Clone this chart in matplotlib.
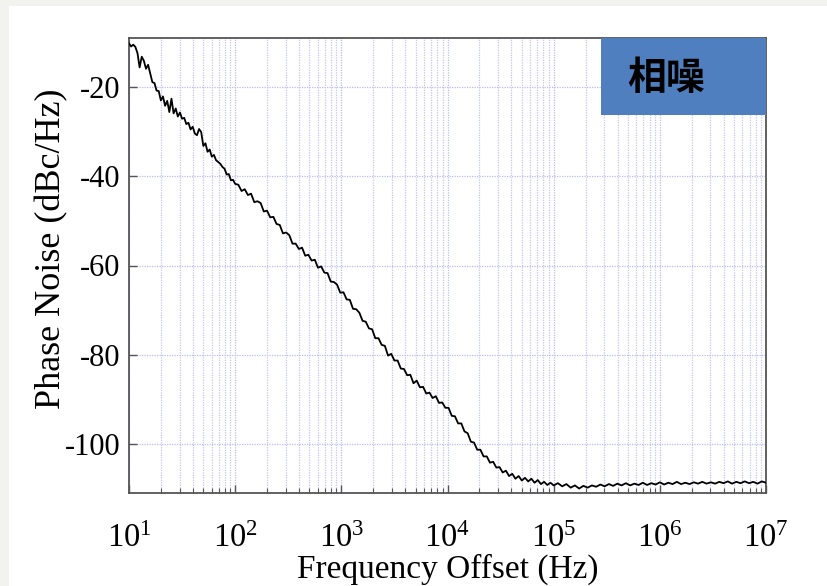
import numpy as np
import matplotlib
matplotlib.use("Agg")
import matplotlib.pyplot as plt
from matplotlib import ticker
from matplotlib.patches import Rectangle

plt.rcParams['font.family'] = ['Liberation Serif', 'DejaVu Serif']
plt.rcParams['mathtext.fontset'] = 'custom'
plt.rcParams['mathtext.rm'] = 'Liberation Serif'

# --- datos (log10 de la frecuencia, dBc/Hz) ---
log_f_low = [1.00, 1.02, 1.04, 1.06, 1.08, 1.10, 1.12, 1.14, 1.16, 1.18,
             1.20, 1.22, 1.24, 1.26, 1.28, 1.30, 1.32, 1.34, 1.36, 1.38,
             1.40, 1.42, 1.44, 1.46, 1.48, 1.50, 1.52, 1.54, 1.56, 1.58,
             1.60, 1.62, 1.64, 1.66, 1.68, 1.70, 1.72, 1.74, 1.76, 1.78,
             1.80, 1.82, 1.84, 1.86, 1.88, 1.90, 1.92, 1.94, 1.96, 1.98, 2.00]
pn_low = [-10.2, -10.9, -10.5, -11.0, -12.4, -15.6, -13.2, -14.1, -15.9, -15.0,
          -17.0, -18.9, -19.1, -20.8, -20.9, -23.0, -22.1, -24.2, -23.1, -25.6,
          -22.6, -25.9, -24.8, -26.6, -25.7, -27.1, -26.9, -28.3, -28.0, -29.5,
          -28.9, -30.4, -30.8, -29.4, -30.1, -33.2, -32.6, -34.5, -34.0, -35.6,
          -35.2, -36.4, -36.8, -37.2, -37.9, -38.3, -39.6, -39.5, -40.9, -40.8, -41.7]

log_f_mid = [2.03, 2.06, 2.09, 2.12, 2.15, 2.18, 2.21, 2.24, 2.27, 2.30,
             2.33, 2.36, 2.39, 2.42, 2.45, 2.48, 2.51, 2.54, 2.57, 2.60,
             2.63, 2.66, 2.69, 2.72, 2.75, 2.78, 2.81, 2.84, 2.87, 2.90,
             2.93, 2.96, 2.99, 3.02, 3.05, 3.08, 3.11, 3.14, 3.17, 3.20,
             3.23, 3.26, 3.29, 3.32, 3.35, 3.38, 3.41, 3.44, 3.47, 3.50,
             3.53, 3.56, 3.59, 3.62, 3.65, 3.68, 3.71, 3.74, 3.77, 3.80,
             3.83, 3.86, 3.89, 3.92, 3.95, 3.98, 4.01, 4.04, 4.07, 4.10,
             4.13, 4.16, 4.19, 4.22, 4.25, 4.28, 4.31, 4.34, 4.37, 4.40,
             4.43, 4.46, 4.49, 4.52, 4.55, 4.58, 4.61, 4.64, 4.67, 4.70,
             4.73, 4.76, 4.79, 4.82, 4.85, 4.88, 4.91, 4.94, 4.97]
pn_mid = [-41.9, -43.3, -42.9, -44.2, -43.9, -45.8, -45.6, -46.0, -47.9, -47.7,
          -49.2, -49.1, -50.7, -50.9, -52.8, -52.6, -53.2, -55.1, -55.1, -56.3,
          -56.0, -57.8, -57.6, -58.9, -58.7, -60.5, -60.2, -61.6, -61.7, -63.6,
          -63.7, -64.3, -66.1, -66.0, -67.6, -67.7, -69.7, -69.8, -70.6, -72.4,
          -72.6, -74.1, -74.3, -76.3, -76.3, -77.8, -78.0, -80.2, -79.8, -81.3,
          -81.3, -83.1, -83.2, -84.6, -84.5, -86.4, -85.8, -87.3, -87.2, -88.7,
          -88.5, -89.7, -89.3, -90.8, -90.7, -91.9, -91.9, -93.7, -93.8, -95.4,
          -95.4, -97.2, -97.6, -99.5, -99.7, -101.3, -101.3, -102.8, -102.8, -104.2,
          -104.0, -105.3, -105.2, -106.4, -106.0, -107.2, -106.7, -107.8, -107.2, -108.2,
          -107.6, -108.4, -107.8, -108.7, -108.1, -109.0, -108.5, -109.2, -108.7]

log_f_floor = [5.00, 5.04, 5.08, 5.12, 5.16, 5.20, 5.24, 5.28, 5.32, 5.36,
               5.40, 5.44, 5.48, 5.52, 5.56, 5.60, 5.64, 5.68, 5.72, 5.76,
               5.80, 5.84, 5.88, 5.92, 5.96, 6.00, 6.04, 6.08, 6.12, 6.16,
               6.20, 6.24, 6.28, 6.32, 6.36, 6.40, 6.44, 6.48, 6.52, 6.56,
               6.60, 6.64, 6.68, 6.72, 6.76, 6.80, 6.84, 6.88, 6.92, 6.96, 7.00]
pn_floor = [-109.3, -108.8, -109.5, -109.0, -109.8, -109.3, -110.0, -109.4, -109.8, -109.3,
            -109.6, -109.1, -109.5, -109.0, -109.4, -108.9, -109.3, -108.8, -109.3, -108.9,
            -109.2, -108.7, -109.2, -108.8, -109.1, -108.6, -109.1, -108.7, -109.0, -108.5,
            -109.0, -108.7, -109.0, -108.6, -108.9, -108.5, -108.9, -108.6, -108.9, -108.5,
            -108.8, -108.4, -108.9, -108.5, -108.8, -108.4, -108.8, -108.5, -108.9, -108.4, -108.7]

y_ticks = [-20, -40, -60, -80, -100]
etiqueta = '相噪'

freq = 10 ** np.array(log_f_low + log_f_mid + log_f_floor)
ruido = np.array(pn_low + pn_mid + pn_floor)

fig = plt.figure(figsize=(8.27, 5.86), dpi=100)
fig.patch.set_facecolor('#f2f3ef')
fondo = Rectangle((9 / 827, 0), 1, 580 / 586, transform=fig.transFigure,
                  facecolor='white', edgecolor='none', zorder=-10)
fig.add_artist(fondo)

ax = fig.add_axes([129 / 827, 1 - 493 / 586, 637 / 827, 455 / 586])
ax.set_zorder(1)
ax.plot(freq, ruido, color='black', lw=1.3, zorder=3)

ax.set_xscale('log')
ax.set_xlim(10, 1e7)
ax.set_ylim(-111, -9)
ax.set_yticks(y_ticks)
ax.set_yticklabels([str(v) for v in y_ticks])
ax.xaxis.set_major_locator(ticker.LogLocator(base=10, numticks=10))
ax.xaxis.set_minor_locator(ticker.LogLocator(base=10, subs=np.arange(2, 10), numticks=20))
ax.xaxis.set_major_formatter(ticker.LogFormatterMathtext())
ax.xaxis.set_minor_formatter(ticker.NullFormatter())

ax.grid(True, which='major', axis='both', color='#bcbcf2', lw=0.9, ls=(0, (1, 1)))
ax.grid(True, which='minor', axis='x', color='#c4c4f4', lw=0.9, ls=(0, (1, 1)))
ax.set_axisbelow(True)

ax.tick_params(axis='both', which='major', direction='in', length=6, width=1,
               labelsize=22, color='#555555')
ax.tick_params(axis='x', which='major', pad=22, labelsize=23.5)
ax.tick_params(axis='y', which='major', pad=6)
ax.tick_params(axis='x', which='minor', direction='in', length=3.5, width=0.8, color='#555555')
for s in ax.spines.values():
    s.set_color('#555555')
    s.set_linewidth(1.3)

ax.set_xlabel('Frequency Offset (Hz)', fontsize=24)
ax.xaxis.set_label_coords(0.5, -0.133)
ax.set_ylabel('Phase Noise (dBc/Hz)', fontsize=26)
ax.yaxis.set_label_coords(-0.095, 0.536)

ax.add_patch(Rectangle((0.741, 0.831), 0.259, 0.169, transform=ax.transAxes,
                       facecolor='#4f7fbe', edgecolor='none', zorder=4))
ax.text(0.843, 0.91, etiqueta, transform=ax.transAxes, ha='center', va='center',
        fontsize=28, fontweight='heavy', color='black', zorder=5,
        family=['Noto Sans CJK SC', 'DejaVu Sans'])

plt.savefig('out.png', dpi=100)
